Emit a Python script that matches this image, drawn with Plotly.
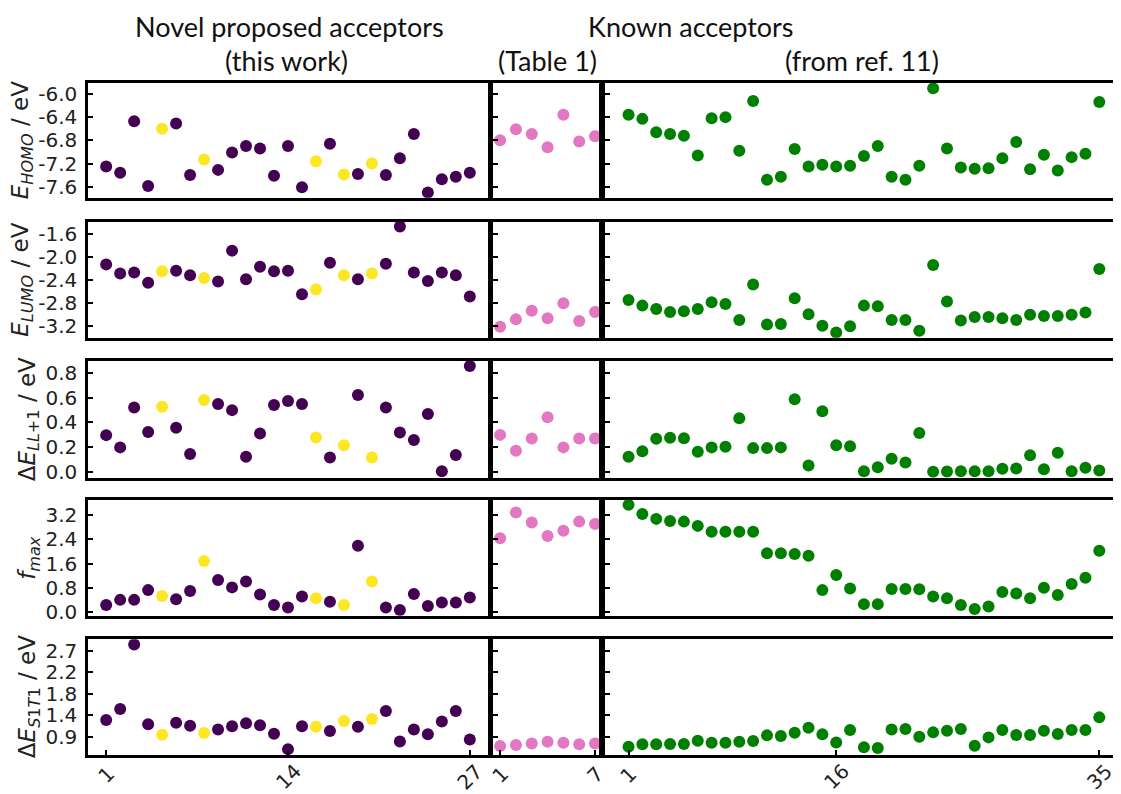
import plotly.graph_objects as go

W, H = 1121, 794
OFF = 8  # page body margin: the figure is drawn 8 px from the top-left corner

# ---------------- data ----------------
novel_idx = list(range(1, 28))
novel_highlight = [5, 8, 16, 18, 20]  # yellow points
table_idx = list(range(1, 8))
ref_idx = list(range(1, 36))

novel_homo = [-7.25, -7.36, -6.47, -7.59, -6.60, -6.51, -7.40, -7.13, -7.31, -7.01,
              -6.90, -6.94, -7.41, -6.90, -7.61, -7.16, -6.86, -7.39, -7.38, -7.20,
              -7.40, -7.11, -6.69, -7.70, -7.47, -7.43, -7.36]
novel_lumo = [-2.13, -2.29, -2.27, -2.45, -2.25, -2.24, -2.32, -2.37, -2.43, -1.89,
              -2.39, -2.17, -2.25, -2.24, -2.65, -2.57, -2.10, -2.32, -2.39, -2.29,
              -2.12, -1.47, -2.27, -2.42, -2.27, -2.32, -2.69]
novel_dll = [0.296, 0.197, 0.520, 0.321, 0.525, 0.356, 0.143, 0.579, 0.547, 0.498,
             0.121, 0.310, 0.539, 0.571, 0.547, 0.277, 0.116, 0.215, 0.620, 0.116,
             0.520, 0.318, 0.256, 0.466, 0.005, 0.135, 0.854]
novel_fmax = [0.24, 0.41, 0.41, 0.73, 0.54, 0.43, 0.70, 1.69, 1.06, 0.82,
              1.01, 0.59, 0.24, 0.16, 0.52, 0.46, 0.35, 0.24, 2.19, 1.01,
              0.16, 0.08, 0.60, 0.21, 0.32, 0.32, 0.49]
novel_dst = [1.25, 1.48, 2.83, 1.16, 0.94, 1.19, 1.13, 0.98, 1.05, 1.12,
             1.18, 1.14, 0.96, 0.64, 1.12, 1.11, 1.02, 1.23, 1.11, 1.27,
             1.44, 0.80, 1.05, 0.95, 1.22, 1.44, 0.84]

table_homo = [-6.80, -6.61, -6.69, -6.92, -6.36, -6.82, -6.73]
table_lumo = [-3.22, -3.09, -2.94, -3.07, -2.81, -3.12, -2.96]
table_dll = [0.298, 0.170, 0.268, 0.441, 0.197, 0.268, 0.268]
table_fmax = [2.43, 3.28, 2.95, 2.51, 2.68, 2.98, 2.90]
table_dst = [0.705, 0.726, 0.760, 0.795, 0.774, 0.740, 0.760]

ref_homo = [-6.36, -6.43, -6.66, -6.69, -6.72, -7.06, -6.42, -6.40, -6.98, -6.12,
            -7.48, -7.43, -6.95, -7.25, -7.22, -7.25, -7.24, -7.07, -6.90, -7.43,
            -7.48, -7.24, -5.90, -6.94, -7.27, -7.29, -7.28, -7.11, -6.83, -7.30,
            -7.05, -7.32, -7.09, -7.03, -6.14]
ref_lumo = [-2.75, -2.85, -2.91, -2.96, -2.95, -2.91, -2.79, -2.82, -3.10, -2.48,
            -3.18, -3.17, -2.72, -3.00, -3.20, -3.32, -3.21, -2.85, -2.86, -3.10,
            -3.10, -3.29, -2.14, -2.78, -3.11, -3.05, -3.05, -3.07, -3.10, -3.01,
            -3.03, -3.03, -3.01, -2.97, -2.21]
ref_dll = [0.122, 0.165, 0.266, 0.274, 0.271, 0.162, 0.197, 0.202, 0.433, 0.191,
           0.191, 0.197, 0.585, 0.050, 0.489, 0.215, 0.207, 0.005, 0.037, 0.106,
           0.074, 0.314, 0.000, 0.003, 0.005, 0.005, 0.005, 0.024, 0.027, 0.133,
           0.021, 0.154, 0.005, 0.032, 0.011]
ref_fmax = [3.53, 3.23, 3.07, 3.00, 2.98, 2.84, 2.65, 2.65, 2.65, 2.65,
            1.94, 1.94, 1.92, 1.86, 0.73, 1.23, 0.78, 0.27, 0.27, 0.77,
            0.77, 0.76, 0.52, 0.46, 0.24, 0.11, 0.19, 0.67, 0.62, 0.46,
            0.81, 0.57, 0.93, 1.14, 2.02]
ref_dst = [0.691, 0.740, 0.740, 0.747, 0.747, 0.816, 0.774, 0.774, 0.795, 0.809,
           0.928, 0.914, 0.984, 1.088, 0.949, 0.781, 1.040, 0.677, 0.663, 1.053,
           1.060, 0.900, 0.991, 1.026, 1.060, 0.712, 0.886, 1.040, 0.935, 0.935,
           1.026, 0.956, 1.040, 1.040, 1.305]

row_titles = ["<i>E</i><sub><i>HOMO</i></sub> / eV",
              "<i>E</i><sub><i>LUMO</i></sub> / eV",
              "Δ<i>E</i><sub><i>LL</i>+1</sub> / eV",
              "<i>f</i><sub><i>max</i></sub>",
              "Δ<i>E</i><sub><i>S</i>1<i>T</i>1</sub> / eV"]
row_tickvals = [[-7.6, -7.2, -6.8, -6.4, -6.0],
                [-3.2, -2.8, -2.4, -2.0, -1.6],
                [0.0, 0.2, 0.4, 0.6, 0.8],
                [0.0, 0.8, 1.6, 2.4, 3.2],
                [0.9, 1.35, 1.8, 2.25, 2.7]]
row_ticktext = [["-7.6", "-7.2", "-6.8", "-6.4", "-6.0"],
                ["-3.2", "-2.8", "-2.4", "-2.0", "-1.6"],
                ["0.0", "0.2", "0.4", "0.6", "0.8"],
                ["0.0", "0.8", "1.6", "2.4", "3.2"],
                ["0.9", "1.4", "1.8", "2.2", "2.7"]]
row_ranges = [[-7.79, -5.806], [-3.41, -1.385], [-0.048, 0.895], [-0.11, 3.69], [0.517, 2.94]]

col_xticks = [[1, 14, 27], [1, 7], [1, 16, 35]]
col_ranges = [[-0.3, 28.3], [0.55, 7.25], [-0.7, 36.35]]

novel_rows = [novel_homo, novel_lumo, novel_dll, novel_fmax, novel_dst]
table_rows = [table_homo, table_lumo, table_dll, table_fmax, table_dst]
ref_rows = [ref_homo, ref_lumo, ref_dll, ref_fmax, ref_dst]

headers = [("Novel proposed acceptors", 289, 26), ("(this work)", 286, 61),
           ("Known acceptors", 691, 26), ("(Table 1)", 547, 61), ("(from ref. 11)", 862, 61)]

# ---------------- layout geometry (screen pixels) ----------------
col_px = [(88, 488), (493, 599), (605, 1118)]
row_px = [(82.7, 197.7), (221.7, 337.7), (361, 477.7), (500, 615.7), (639.3, 755)]


def fx(sx):
    return (sx - OFF) / W


def fy(sy):
    return 1 - (sy - OFF) / H


PURPLE, YELLOW, PINK, GREEN = "#440154", "#fde725", "#e377c2", "#008000"
FONT = "DejaVu Sans"
TICKFONT = 20

fig = go.Figure()
layout = {}
annotations = []

for r in range(5):
    for c in range(3):
        p = r * 3 + c + 1
        xa, ya = f"x{p}", f"y{p}"
        if c == 0:
            xs, ys = novel_idx, novel_rows[r]
            cols = [YELLOW if i in novel_highlight else PURPLE for i in xs]
        elif c == 1:
            xs, ys, cols = table_idx, table_rows[r], PINK
        else:
            xs, ys, cols = ref_idx, ref_rows[r], GREEN
        fig.add_trace(go.Scatter(x=xs, y=ys, mode="markers", xaxis=xa, yaxis=ya,
                                 marker=dict(size=12, color=cols, line=dict(width=0)),
                                 showlegend=False, hoverinfo="x+y"))
        x0, x1 = col_px[c]
        y0, y1 = row_px[r]
        bottom = (r == 4)
        layout[f"xaxis{p}"] = dict(
            domain=[fx(x0), fx(x1)], anchor=ya, range=col_ranges[c], automargin=False,
            showline=True, linecolor="black", linewidth=2.5, mirror=True,
            showgrid=False, zeroline=False,
            ticks="inside" if bottom else "", ticklen=5, tickwidth=1.8, tickcolor="black",
            tickvals=col_xticks[c] if bottom else [], showticklabels=False)
        layout[f"yaxis{p}"] = dict(
            domain=[fy(y1), fy(y0)], anchor=xa, range=row_ranges[r], automargin=False,
            showline=True, linecolor="black", linewidth=2.5, mirror=True,
            showgrid=False, zeroline=False,
            ticks="inside", ticklen=5, tickwidth=1.8, tickcolor="black",
            tickvals=row_tickvals[r], ticktext=row_ticktext[r],
            showticklabels=(c == 0), ticklabelstandoff=4,
            tickfont=dict(family=FONT, size=TICKFONT, color="#222222"))
        if bottom:
            for t in col_xticks[c]:
                yc = 775 if len(str(t)) == 1 else 777
                annotations.append(dict(
                    x=t, xref=xa, y=fy(yc), yref="paper", text=str(t),
                    textangle=-45, showarrow=False, xanchor="center", yanchor="middle",
                    font=dict(family=FONT, size=TICKFONT, color="#222222")))
    # row title
    yc = (row_px[r][0] + row_px[r][1]) / 2
    xc = 22 if r < 2 else 29
    annotations.append(dict(
        x=fx(xc), xref="paper", y=fy(yc), yref="paper", text=row_titles[r],
        textangle=-90, showarrow=False, xanchor="center", yanchor="middle",
        font=dict(family=FONT, size=23, color="#222222")))

for txt, xc, yc in headers:
    annotations.append(dict(
        x=fx(xc), xref="paper", y=fy(yc), yref="paper", text=txt,
        showarrow=False, xanchor="center", yanchor="middle",
        font=dict(family="Lato", size=27, color="#111111")))

fig.update_layout(**layout)
fig.update_layout(
    width=W, height=H, margin=dict(l=0, r=0, t=0, b=0, autoexpand=False),
    paper_bgcolor="white", plot_bgcolor="white",
    annotations=annotations, showlegend=False)

fig.write_html("out.html")
